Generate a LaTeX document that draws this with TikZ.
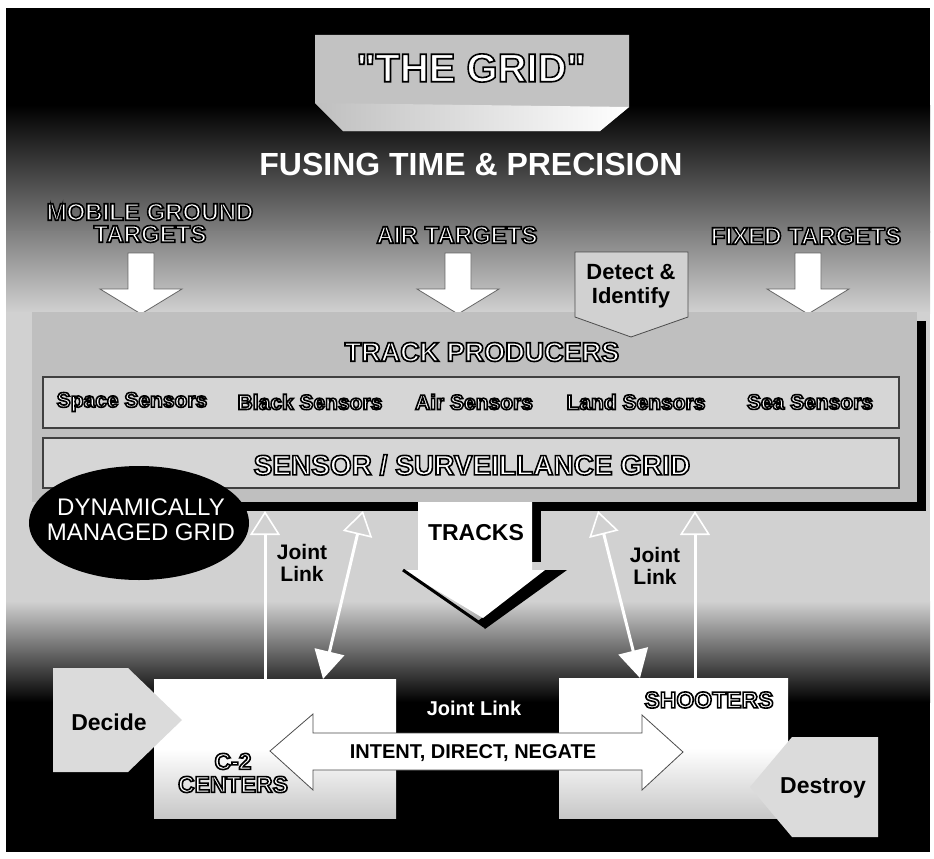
\documentclass[tikz,border=0pt]{standalone}
\usepackage{fontspec}
\setmainfont{Liberation Sans}[Ligatures=TeXOff]
\usetikzlibrary{arrows.meta,shapes.geometric}
\definecolor{bgmid}{gray}{0.50}
\definecolor{bglight}{gray}{0.82}
\definecolor{trk}{gray}{0.75}
\definecolor{sfill}{gray}{0.84}
\definecolor{boxg}{gray}{0.76}
\newcommand{\outtxt}[1]{\textcolor{white}{\special{pdf:literal direct 0 G 2 Tr 1.6 w}#1\special{pdf:literal direct 0 Tr}}}
\newcommand{\fsz}[1]{\fontsize{#1}{#1}\selectfont}
\begin{document}
\begin{tikzpicture}[x=1pt,y=-1pt,
  every node/.style={inner sep=0pt, outer sep=0pt},
  blk/.style={font=\bfseries\fsz{23}, text=black},
  olbl/.style={font=\bfseries\fsz{24}, align=center},
  sens/.style={font=\bfseries\fsz{21}},
  sbox/.style={draw=black!75, line width=1.5pt, fill=sfill},
  downarrow/.style={fill=white, draw=black!60, line width=0.8pt},
  cbox/.style={top color=white, bottom color=black!22, middle color=white},
  pent/.style={fill=black!14},
  jl/.style={draw=white, line width=3pt, -{Triangle[open, length=24pt, width=30pt, line width=1.6pt]}},
  jld/.style={draw=white, line width=3pt, {Triangle[length=28pt, width=30pt]}-{Triangle[open, length=24pt, width=30pt, line width=1.6pt]}},
]
\useasboundingbox (0,0) rectangle (934,859);
\fill[white] (0,0) rectangle (934,859);
% ---------- background ----------
\fill[black] (6,8) rectangle (930,852);
\shade[top color=black, bottom color=bgmid] (6,105) rectangle (930,232);
\shade[top color=bgmid, bottom color=bglight] (6,231) rectangle (930,313);
\fill[bglight] (6,312) rectangle (930,602);
\shade[top color=bglight, bottom color=black] (6,601) rectangle (930,702);
% ---------- title box ----------
\fill[boxg] (315,35) -- (629,35) -- (629,107) -- (600,131) -- (343,131) -- (315,103) -- cycle;
\shade[left color=black!25, right color=white] (315,103) -- (629,107) -- (600,131) -- (343,131) -- cycle;
\node[font=\bfseries\fsz{40}] (title) at (471,68) {\outtxt{"THE GRID"}};
\node[font=\bfseries\fsz{32}, text=white] (fusing) at (471,164) {FUSING TIME \& PRECISION};
% ---------- target labels and arrows ----------
\node[olbl] (mg) at (150,223) {\outtxt{MOBILE GROUND}\\[-2pt]\outtxt{TARGETS}};
\node[olbl] (air) at (457,235) {\outtxt{AIR TARGETS}};
\node[olbl] (fix) at (806,236) {\outtxt{FIXED TARGETS}};
\foreach \cx/\nm in {141/mga, 458/aira, 808/fixa}{
  \draw[downarrow] (\cx-13,253) -- (\cx+13,253) -- (\cx+13,289) -- (\cx+41,289)
     -- (\cx,314) -- (\cx-41,289) -- (\cx-13,289) -- cycle;
  \coordinate (\nm) at (\cx,314);
}
% ---------- track producers region with shadow ----------
\fill[black] (41,321) rectangle (926,511);
\fill[trk] (32,312) rectangle (917,502);
% TRACKS arrow (stem and head)
\draw[line width=9pt] (536.5,502) -- (536.5,562);
\fill[black] (543,570) -- (567,570) -- (485,629) -- (478,621) -- cycle;
\shade[top color=white, bottom color=white, middle color=white]
  (418,502) -- (532,502) -- (532,570) -- (545,570) -- (483,618) -- (403,570) -- (418,570) -- cycle;
\draw[line width=3pt] (403,570) -- (484,626);
\node[blk] (tracks) at (476,533) {TRACKS};
% Detect & Identify
\draw[fill=black!18, draw=black!70, line width=0.8pt]
  (575,252) -- (688,252) -- (688,317) -- (631,337) -- (575,317) -- cycle;
\node[blk, align=center, font=\bfseries\fsz{22}] (detect) at (631,286) {Detect \&\\[2pt]Identify};
\node[font=\bfseries\fsz{27}] (tp) at (482,352) {\outtxt{TRACK PRODUCERS}};
% sensor rows
\node[sbox, minimum width=856pt, minimum height=51pt] (row1) at (471,402.5) {};
\node[sbox, minimum width=856pt, minimum height=50pt] (row2) at (471,463) {};
\node[sens] (space) at (132,402) {\outtxt{Space Sensors}};
\node[sens] (blacks) at (310,402) {\outtxt{Black Sensors}};
\node[sens] (airs) at (474,402) {\outtxt{Air Sensors}};
\node[sens] (land) at (636,402) {\outtxt{Land Sensors}};
\node[sens] (sea) at (810,402) {\outtxt{Sea Sensors}};
\node[font=\bfseries\fsz{28}] (ssg) at (472,465) {\outtxt{SENSOR / SURVEILLANCE GRID}};
% dynamically managed grid
\node[ellipse, fill=black, minimum width=220pt, minimum height=114pt] (dmg) at (139,523) {};
\node[font=\fsz{24}, text=white, align=center] (dmgt) at (141,520) {DYNAMICALLY\\[1pt]MANAGED GRID};
% ---------- bottom boxes ----------
\node[cbox, minimum width=242pt, minimum height=139pt] (c2) at (275,748.5) {};
\node[cbox, minimum width=229pt, minimum height=140pt] (shoot) at (673.5,748) {};
\node[olbl, font=\bfseries\fsz{23}] (c2t) at (233,773) {\outtxt{C-2}\\[0pt]\outtxt{CENTERS}};
\node[olbl, font=\bfseries\fsz{23}] (shoott) at (709,700) {\outtxt{SHOOTERS}};
\node[blk, font=\bfseries\fsz{20}, text=white] (jlmid) at (474,708) {Joint Link};
% joint link arrows
\coordinate (l1t) at (265,511);
\coordinate (l2b) at (323,679);
\coordinate (l2t) at (363,511);
\coordinate (r2b) at (640,678);
\coordinate (r2t) at (598,511);
\coordinate (r1t) at (695,511);
\draw[jl] (c2.north -| l1t) -- (l1t);
\draw[jld] (l2b) -- (l2t);
\draw[jld] (r2b) -- (r2t);
\draw[jl] (shoot.north -| r1t) -- (r1t);
\node[blk, align=center, font=\bfseries\fsz{21}] (jll) at (302,563) {Joint\\[1pt]Link};
\node[blk, align=center, font=\bfseries\fsz{21}] (jlr) at (655,566) {Joint\\[1pt]Link};
% decide / destroy
\fill[pent] (53,668) -- (128,668) -- (182,720) -- (128,772) -- (53,772) -- cycle;
\node[blk, font=\bfseries\fsz{23}] (decide) at (109,722) {Decide};
\fill[pent] (792,737) -- (878,737) -- (878,837) -- (792,837) -- (750,787) -- cycle;
\node[blk, font=\bfseries\fsz{23}] (destroy) at (823,788) {Destroy};
% intent double arrow
\draw[fill=white, draw=black!70, line width=0.8pt]
  (270,751) -- (313,714) -- (313,733) -- (642,733) -- (642,715) -- (683,752)
  -- (642,790) -- (642,770) -- (313,770) -- (313,790) -- cycle;
\node[blk, font=\bfseries\fsz{20}] (intent) at (473,753) {INTENT, DIRECT, NEGATE};
\end{tikzpicture}
\end{document}
